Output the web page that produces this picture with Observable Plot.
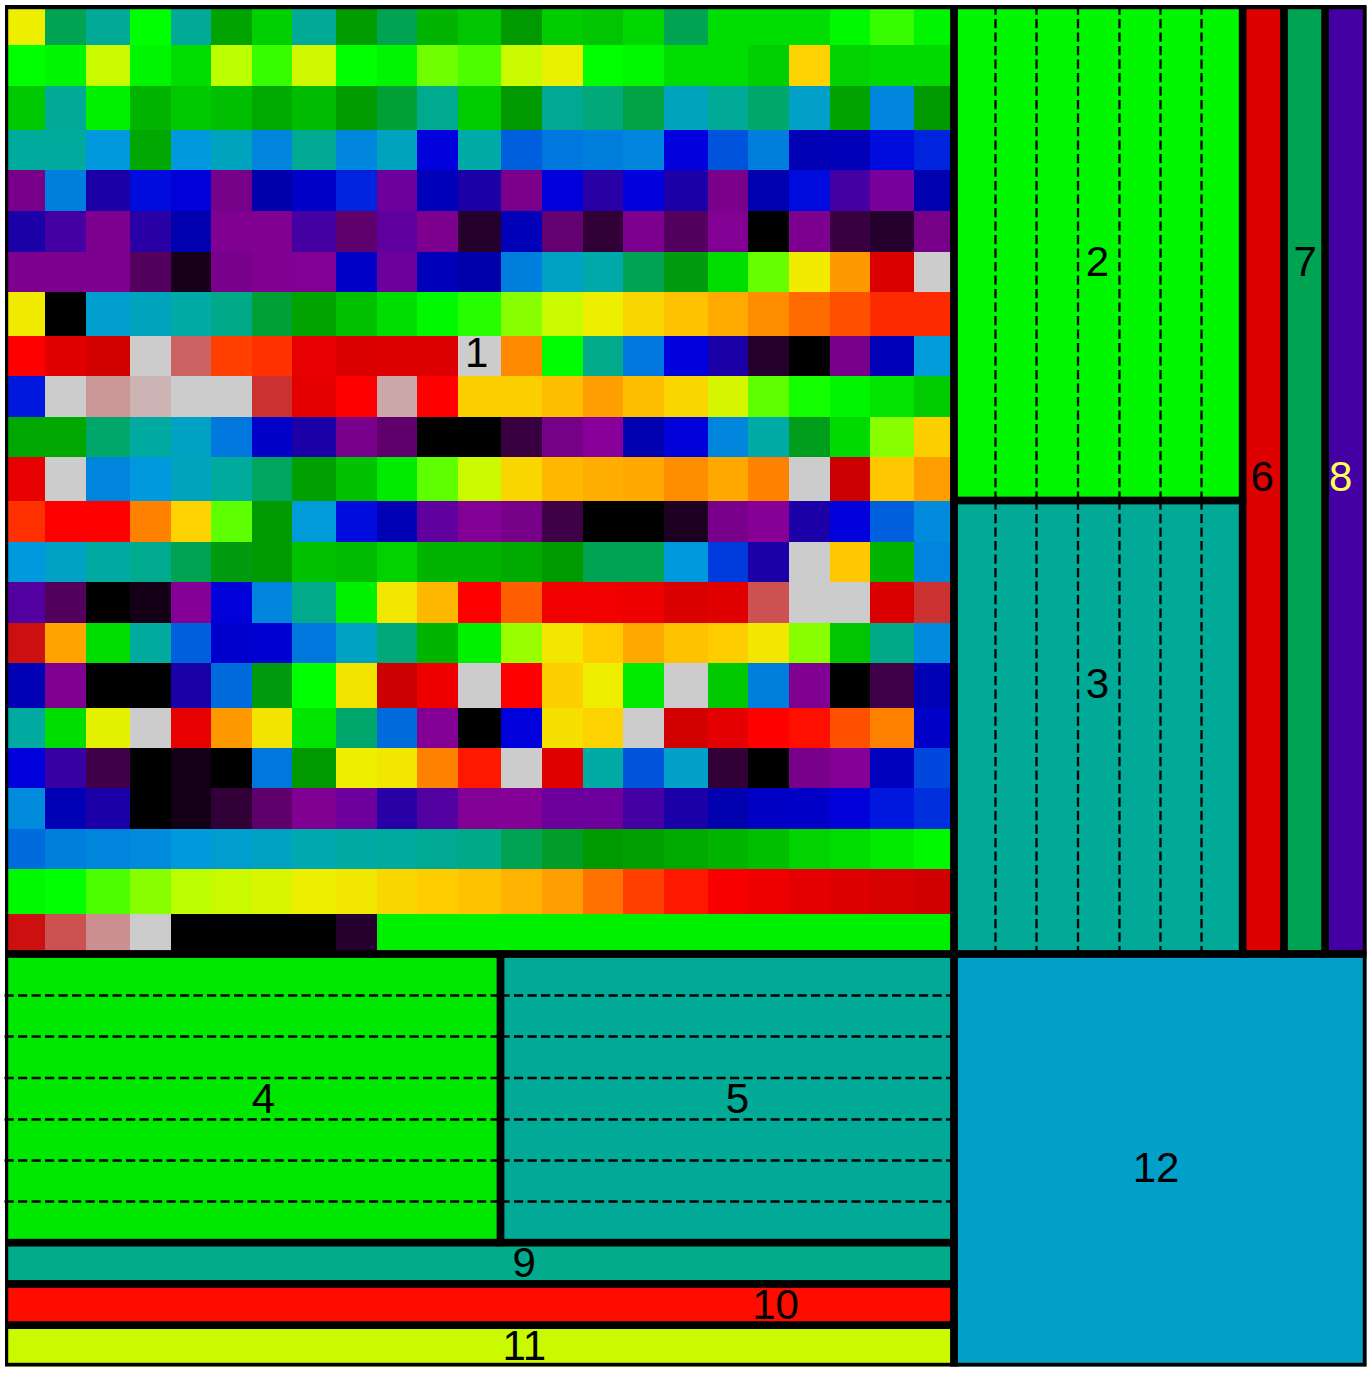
<!DOCTYPE html>
<html>
<head>
<meta charset="utf-8">
<script src="https://cdn.jsdelivr.net/npm/d3@7"></script>
<script src="https://cdn.jsdelivr.net/npm/@observablehq/plot@0.6"></script>
<style>html,body{margin:0;padding:0;background:#fff}svg{display:block}</style>
</head>
<body>
<div id="chart"></div>
<script>
// Values of the 23 x 23 matrix (block 1), colour-map position 0..1
const row00=[.70,.42,.38,.60,.38,.465,.53,.38,.455,.42,.49,.515,.45,.525,.515,.54,.42,.55,.55,.55,.59,.615,.585];
const row01=[.60,.585,.665,.585,.55,.65,.615,.67,.60,.585,.63,.62,.665,.695,.60,.59,.55,.55,.53,.74,.535,.545,.545];
const row02=[.52,.38,.58,.49,.52,.505,.475,.50,.455,.43,.39,.525,.45,.385,.405,.425,.33,.38,.41,.32,.465,.27,.45];
const row03=[.37,.37,.30,.47,.30,.33,.27,.385,.27,.33,.20,.355,.24,.25,.26,.27,.20,.235,.26,.16,.165,.205,.215];
const row04=[.055,.26,.14,.205,.195,.05,.15,.18,.215,.11,.165,.14,.06,.20,.135,.20,.14,.06,.155,.205,.125,.105,.155];
const row05=[.14,.125,.07,.135,.155,.075,.075,.125,.04,.115,.07,.016,.165,.042,.02,.07,.035,.085,0,.07,.024,.016,.05];
const row06=[.07,.07,.07,.035,.01,.055,.075,.085,.18,.11,.165,.15,.26,.325,.35,.42,.445,.55,.627,.705,.80,.905,1];
const row07=[.705,0,.315,.33,.355,.40,.43,.465,.51,.55,.59,.61,.636,.665,.70,.735,.76,.783,.804,.815,.824,.836,.836];
const row08=[.85,.895,.93,1,.974,.829,.834,.885,.905,.90,.90,1,.805,.595,.395,.25,.20,.14,.016,0,.055,.165,.305];
const row09=[.21,1,.987,.994,1,1,.962,.89,.85,.991,.85,.745,.745,.765,.795,.765,.735,.675,.625,.605,.585,.56,.525];
const row10=[.47,.47,.41,.365,.325,.25,.18,.14,.055,.04,0,0,.024,.05,.10,.155,.195,.27,.355,.44,.545,.636,.745];
const row11=[.885,1,.27,.30,.33,.37,.415,.46,.51,.57,.625,.665,.735,.77,.78,.785,.804,.785,.808,1,.95,.755,.795];
const row12=[.834,.85,.85,.808,.74,.625,.45,.305,.205,.16,.115,.085,.05,.026,0,0,.012,.055,.095,.14,.20,.24,.28];
const row13=[.30,.325,.36,.39,.42,.445,.45,.51,.50,.535,.49,.49,.475,.45,.42,.42,.30,.225,.14,1,.755,.49,.27];
const row14=[.12,.035,0,.008,.09,.195,.27,.395,.58,.71,.77,.85,.819,.87,.87,.875,.905,.895,.97,1,1,.905,.962];
const row15=[.954,.79,.55,.37,.24,.185,.19,.25,.325,.405,.49,.58,.641,.71,.75,.785,.76,.75,.71,.636,.515,.40,.28];
const row16=[.16,.075,0,0,.14,.245,.445,.60,.715,.95,.875,1,.85,.745,.70,.57,1,.52,.26,.075,0,.027,.16];
const row17=[.365,.55,.69,1,.885,.80,.715,.56,.41,.245,.085,0,.20,.72,.74,1,.93,.89,.85,.845,.824,.808,.18];
const row18=[.20,.13,.027,0,.008,0,.25,.45,.70,.71,.808,.842,1,.895,.355,.235,.32,.02,0,.055,.09,.17,.23];
const row19=[.28,.16,.14,0,.008,.02,.04,.075,.11,.135,.12,.085,.09,.11,.11,.125,.14,.155,.175,.18,.195,.21,.22];
const row20=[.245,.26,.27,.28,.30,.315,.325,.345,.36,.37,.385,.40,.42,.435,.45,.46,.475,.49,.505,.535,.55,.57,.59];
const row21=[.59,.60,.62,.636,.65,.665,.68,.70,.71,.735,.75,.76,.775,.795,.813,.829,.842,.86,.875,.89,.90,.92,.935];
const row22=[.954,.97,.985,1,0,0,0,0,.016,.58,.58,.58,.58,.58,.58,.58,.58,.58,.58,.58,.58,.58,.58];
const rows=[row00,row01,row02,row03,row04,row05,row06,row07,row08,row09,row10,row11,row12,row13,row14,row15,row16,row17,row18,row19,row20,row21,row22];

// The eleven other blocks
const blockIds   =[2,3,4,5,6,7,8,9,10,11,12];
const blockValues=[.588,.38,.565,.38,.90,.42,.125,.395,.846,.665,.32];
const blockLeft  =[23,23,0,12,30,31,32,0,0,0,23];
const blockRight =[30,30,12,23,31,32,33,23,23,23,33];
const blockTop   =[0,12,23,23,0,0,0,30,31,32,23];
const blockBottom=[12,23,30,30,23,23,23,31,32,33,33];

// Labels
const labelIds=[1,2,3,4,5,6,7,8,9,10,11,12];
const labelX  =[11.43,26.47,26.47,6.27,17.72,30.46,31.5,32.36,12.56,18.66,12.56,27.89];
const labelY  =[8.43,6.25,16.47,26.51,26.51,11.45,6.25,11.45,30.5,31.5,32.5,28.2];
const labelInk=["#000","#000","#000","#000","#000","#000","#000","#ffff55","#000","#000","#000","#000"];

// Dashed subdivisions
const dashColumns=[24,25,26,27,28,29];
const dashRows=[24,25,26,27,28,29];

// nipy_spectral colour map
const mapStops=[0,.05,.1,.15,.2,.25,.3,.35,.4,.45,.5,.55,.6,.65,.7,.75,.8,.85,.9,.95,1];
const mapColors=["#000000","#770088","#880099","#0000aa","#0000dd","#0077dd","#0099dd","#00aaaa","#00aa88","#009900","#00bb00","#00dd00","#00ff00","#bbff00","#eeee00","#ffcc00","#ff9900","#ff0000","#dd0000","#cc0000","#cccccc"];

// Layout units and the raster grid they landed on in the picture
const unitTicks=d3.range(34);
const rasterX=[4.5,45,86,130,171,211,252,292,336,377,417,458,500.5,542,583,623,664,708,748,789,830,870,914,954,995,1036,1077.5,1119,1160,1201,1242.6,1283.9,1325.2,1366.5];
const rasterY=[5.5,45,86,130,170,211,252,292,336,376,417,457,500.5,542,582,623,663,708,748,788,829,869,914,954,995,1036,1077.5,1119,1160,1201,1242.6,1283.9,1325.2,1366.5];
const warpX=d3.scaleLinear().domain(unitTicks).range(rasterX);
const warpY=d3.scaleLinear().domain(unitTicks).range(rasterY);

const cells=rows.flatMap((r,j)=>r.map((v,i)=>({i,j,v})));
const blocks=blockIds.map((id,k)=>({id,v:blockValues[k],x1:blockLeft[k],x2:blockRight[k],y1:blockTop[k],y2:blockBottom[k]}));
const labels=labelIds.map((id,k)=>({id,x:labelX[k],y:labelY[k],ink:labelInk[k]}));
const dashV=[{a:0,b:12},{a:12,b:23}].flatMap(s=>dashColumns.map(x=>({x,...s})));
const dashH=[{a:0,b:12},{a:12,b:23}].flatMap(s=>dashRows.map(y=>({y,...s})));

const chart=Plot.plot({
  width:1372,height:1374,
  marginLeft:5,marginRight:5.5,marginTop:5,marginBottom:7.5,
  style:{background:"#fff"},
  x:{domain:[4.5,1366.5],range:[4.5,1366.5],transform:warpX,axis:null},
  y:{domain:[4.5,1366.5],range:[4.5,1366.5],transform:warpY,axis:null},
  color:{type:"linear",domain:mapStops,range:mapColors,interpolate:"rgb"},
  marks:[
    Plot.rect(cells,{x1:d=>d.i,x2:d=>d.i+1,y1:d=>d.j,y2:d=>d.j+1,fill:"v",shapeRendering:"crispEdges",clip:"frame"}),
    Plot.rect(blocks,{x1:"x1",x2:"x2",y1:"y1",y2:"y2",fill:"v",shapeRendering:"crispEdges",clip:"frame"}),
    Plot.ruleX(dashV,{x:"x",y1:"a",y2:"b",stroke:"#000",strokeWidth:2.3,strokeDasharray:"9.2,4.3"}),
    Plot.ruleY(dashH,{y:"y",x1:"a",x2:"b",stroke:"#000",strokeWidth:2.3,strokeDasharray:"9.2,4.3"}),
    Plot.rect(blocks,{x1:"x1",x2:"x2",y1:"y1",y2:"y2",fill:null,stroke:"#000",strokeWidth:7.4,clip:"frame"}),
    Plot.rect([{x1:0,x2:23,y1:0,y2:23}],{x1:"x1",x2:"x2",y1:"y1",y2:"y2",fill:null,stroke:"#000",strokeWidth:7.4,clip:"frame"}),
    Plot.text(labels,{x:"x",y:"y",text:"id",fill:"ink",fontSize:42,fontFamily:"'Liberation Sans',Arial,sans-serif",textAnchor:"middle",lineAnchor:"middle"})
  ]
});
document.getElementById("chart").append(chart);
</script>
</body>
</html>
